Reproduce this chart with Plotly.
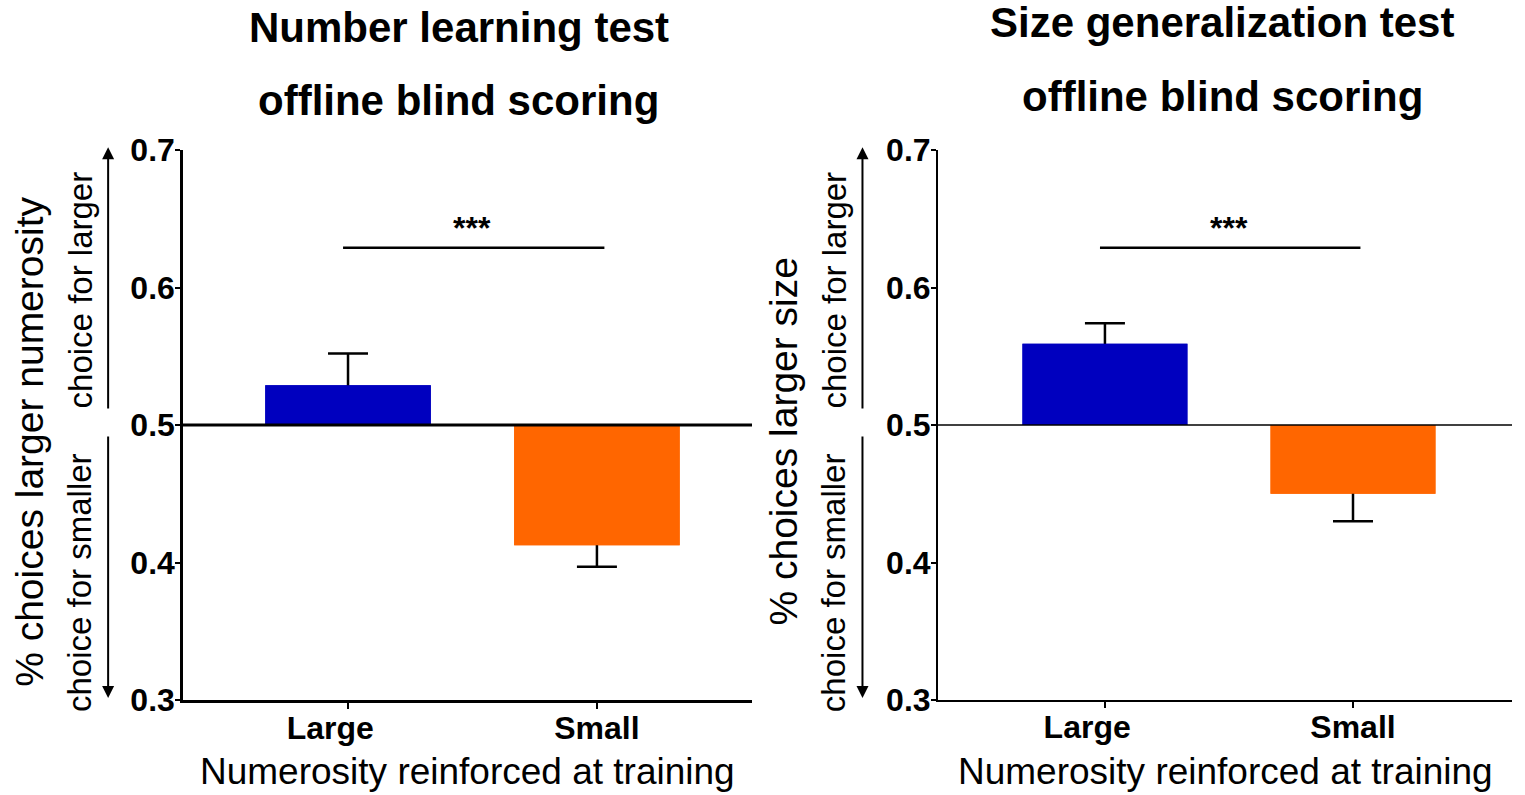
import plotly.graph_objects as go

# ---------------- data ----------------
categories = ["Large", "Small"]
x_ticklabels = ["Large\u00a0\u00a0\u00a0\u00a0", "Small"]
number_means = [0.529, 0.4125]
number_sem = [0.023, 0.0155]
size_means = [0.559, 0.450]
size_sem = [0.015, 0.020]
bar_colors = ["#0000BF", "#FF6600"]
chance_level = 0.5
y_tickvals = [0.3, 0.4, 0.5, 0.6, 0.7]
y_ticktext = ["0.3", "0.4", "0.5", "0.6", "0.7"]
sig_level = [0.629, 0.629]
sig_label = "***"
panel_titles = [["Number learning test", "offline blind scoring"],
                ["Size generalization test", "offline blind scoring"]]
y_titles = ["% choices larger numerosity", "% choices larger size"]
x_title = "Numerosity reinforced at training"
dir_labels = ["choice for larger", "choice for smaller"]

FONT = "Liberation Sans, Arial, Helvetica, sans-serif"
W, H = 1525, 795

fig = go.Figure()

panels = [
    dict(means=number_means, sem=number_sem, zero_w=3.0, axis_w=2.5,
         xdom=[183 / W, 752 / W], xrange=[-0.663, 1.623], tx=0.485, ty=[0.9648, 0.874]),
    dict(means=size_means, sem=size_sem, zero_w=1.6, axis_w=2.0,
         xdom=[938 / W, 1512 / W], xrange=[-0.673, 1.641], tx=0.495, ty=[0.9723, 0.878]),
]

ydom = [1 - 700 / H, 1 - 150 / H]

for i, p in enumerate(panels):
    sfx = "" if i == 0 else str(i + 1)
    xref = "x" + sfx
    yref = "y" + sfx
    diffs = [m - chance_level for m in p["means"]]
    # bars carrying symmetric error bars
    fig.add_trace(go.Bar(
        x=categories, y=diffs, base=chance_level, width=0.665,
        marker=dict(color=bar_colors, line=dict(width=0)),
        error_y=dict(type="data", array=p["sem"], symmetric=True,
                     color="black", thickness=2.5, width=20),
        xaxis=xref, yaxis=yref, showlegend=False, hoverinfo="skip"))
    # same bars on top, hiding the inner half of the error bars
    fig.add_trace(go.Bar(
        x=categories, y=diffs, base=chance_level, width=0.665,
        marker=dict(color=bar_colors, line=dict(width=0)),
        xaxis=xref, yaxis=yref, showlegend=False, hoverinfo="skip"))

    fig.update_layout(**{
        "xaxis" + sfx: dict(
            domain=p["xdom"], anchor=yref, range=p["xrange"], type="category",
            tickvals=categories, ticktext=x_ticklabels,
            showline=True, linecolor="black", linewidth=p["axis_w"],
            ticks="outside", ticklen=6, tickwidth=2, tickcolor="black",
            ticklabelstandoff=-8, automargin=False,
            tickfont=dict(family=FONT, size=32, color="black", weight="bold"),
            showgrid=False, zeroline=False, fixedrange=True),
        "yaxis" + sfx: dict(
            domain=ydom, anchor=xref, range=[0.3, 0.7],
            tickvals=y_tickvals, ticktext=y_ticktext,
            showline=True, linecolor="black", linewidth=p["axis_w"],
            ticks="outside", ticklen=5, tickwidth=2, tickcolor="black",
            ticklabelstandoff=-6, automargin=False,
            tickfont=dict(family=FONT, size=32, color="black", weight="bold"),
            showgrid=False, zeroline=False, fixedrange=True),
    })

    # chance line
    fig.add_shape(type="line", xref=xref + " domain", x0=0, x1=1, yref=yref,
                  y0=chance_level, y1=chance_level,
                  line=dict(color="black", width=p["zero_w"]))
    # significance bracket
    fig.add_shape(type="line", xref=xref, x0=-0.02, x1=1.03, yref=yref,
                  y0=sig_level[i], y1=sig_level[i], line=dict(color="black", width=2.5))
    fig.add_annotation(text=sig_label, xref=xref, x=0.5, yref=yref, y=sig_level[i],
                       yanchor="bottom", yshift=0, showarrow=False,
                       font=dict(family=FONT, size=32, color="black", weight="bold"))

    # titles
    for line, yy in zip(panel_titles[i], p["ty"]):
        fig.add_annotation(text=line, xref=xref + " domain", x=p["tx"], yref="paper", y=yy,
                           xanchor="center", yanchor="middle", showarrow=False,
                           font=dict(family=FONT, size=42, color="black", weight="bold"))

    # x axis title
    fig.add_annotation(text=x_title, xref=xref + " domain", x=0.5, yref="paper",
                       y=1 - 771 / H, xanchor="center", yanchor="middle", showarrow=False,
                       font=dict(family=FONT, size=37, color="black"))

    # y axis title
    fig.add_annotation(text=y_titles[i], xref=xref + " domain", x=-0.27,
                       yref=yref + " domain", y=0.47, textangle=-90,
                       xanchor="center", yanchor="middle", showarrow=False,
                       font=dict(family=FONT, size=39, color="black"))

    # direction labels
    ax_x = -75 / 570
    lab_x = -103 / 570
    for lab, yy in zip(dir_labels, [0.745, 0.213]):
        fig.add_annotation(text=lab, xref=xref + " domain", x=lab_x,
                           yref=yref + " domain", y=yy, textangle=-90,
                           xanchor="center", yanchor="middle", showarrow=False,
                           font=dict(family=FONT, size=33, color="black"))
    # direction arrows
    for tip, tail in [(0.702, 0.511), (0.3015, 0.4927)]:
        fig.add_annotation(text="", xref=xref + " domain", x=ax_x, yref=yref, y=tip,
                           axref=xref + " domain", ax=ax_x, ayref=yref, ay=tail,
                           showarrow=True, arrowhead=2, arrowsize=1.2, arrowwidth=2,
                           arrowcolor="black")

fig.update_layout(
    width=W, height=H, autosize=False, margin=dict(l=0, r=0, t=0, b=0, pad=0),
    paper_bgcolor="white", plot_bgcolor="white",
    barmode="overlay", showlegend=False,
    font=dict(family=FONT, color="black"),
)

fig.write_html("out.html", config={"responsive": False, "displayModeBar": False},
               post_script="document.body.style.margin='0';document.body.style.overflow='hidden';")
